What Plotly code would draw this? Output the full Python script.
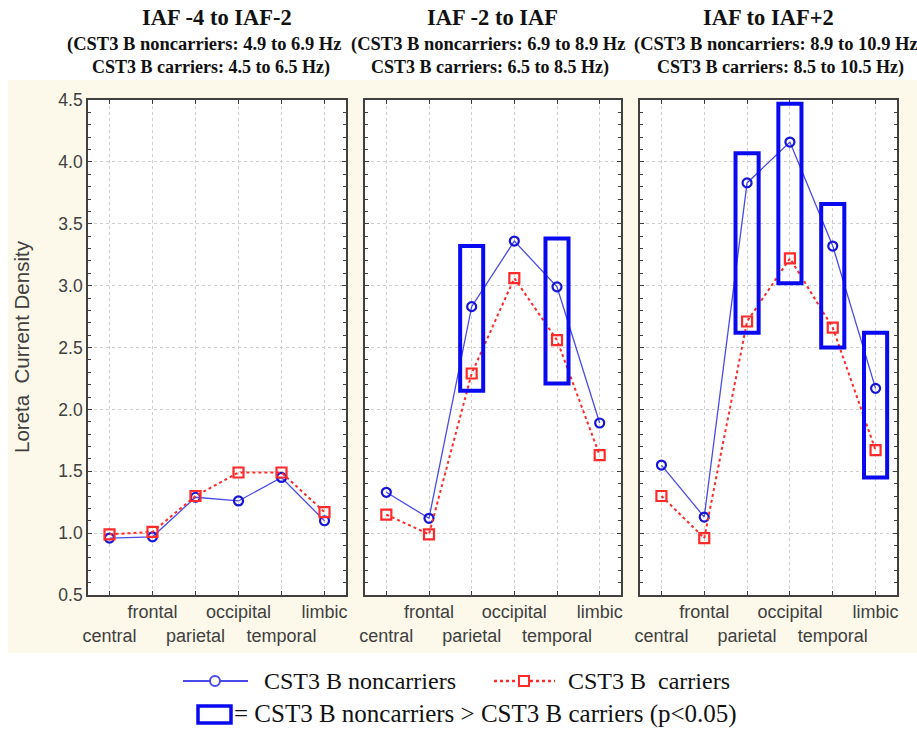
import plotly.graph_objects as go
from plotly.subplots import make_subplots

categories = ["central", "frontal", "parietal", "occipital", "temporal", "limbic"]
tick_text = ["<br>central", "frontal", "<br>parietal", "occipital", "<br>temporal", "limbic"]

panel_titles = ["IAF -4 to IAF-2", "IAF -2 to IAF", "IAF to IAF+2"]
panel_sub1 = ["(CST3 B noncarriers: 4.9 to 6.9 Hz", "(CST3 B noncarriers: 6.9 to 8.9 Hz",
              "(CST3 B noncarriers: 8.9 to 10.9 Hz"]
panel_sub2 = ["CST3 B carriers: 4.5 to 6.5 Hz)", "CST3 B carriers: 6.5 to 8.5 Hz)",
              "CST3 B carriers: 8.5 to 10.5 Hz)"]

noncarr_1 = [0.96, 0.97, 1.29, 1.26, 1.45, 1.10]
carr_1 = [0.99, 1.01, 1.30, 1.49, 1.49, 1.17]
noncarr_2 = [1.33, 1.12, 2.83, 3.36, 2.99, 1.89]
carr_2 = [1.15, 0.99, 2.29, 3.06, 2.56, 1.63]
noncarr_3 = [1.55, 1.13, 3.83, 4.16, 3.32, 2.17]
carr_3 = [1.30, 0.96, 2.71, 3.22, 2.66, 1.67]

sig_cats_2 = ["parietal", "temporal"]
sig_top_2 = [3.32, 3.38]
sig_bot_2 = [2.15, 2.21]
sig_cats_3 = ["parietal", "occipital", "temporal", "limbic"]
sig_top_3 = [4.07, 4.47, 3.66, 2.62]
sig_bot_3 = [2.62, 3.02, 2.50, 1.45]

noncarr = [noncarr_1, noncarr_2, noncarr_3]
carr = [carr_1, carr_2, carr_3]
sig = [([], [], []), (sig_cats_2, sig_top_2, sig_bot_2), (sig_cats_3, sig_top_3, sig_bot_3)]

W, H = 917, 741
L, R, T, B = 88, 20, 100, 146
PW = W - L - R
PH = H - T - B

def X(px):
    return (px - L) / PW

def Y(py):
    return (H - B - py) / PH

fig = make_subplots(rows=1, cols=3, horizontal_spacing=0.0)
domains = [[0.0, X(346)], [X(365), X(621)], [X(640), 1.0]]
sub1_cx = [204, 488, 776]
sub2_cx = [211, 490, 780]

BLUE = "#4a4ae8"
BLUE_M = "#1515d8"
RED = "#ff2a2a"
BOX = "#0a0af0"
SANS = "Liberation Sans, Arial, sans-serif"
SERIF = "Liberation Serif, Times New Roman, serif"

# beige background panel (drawn first), then white plot areas
fig.add_shape(type="rect", xref="paper", yref="paper", x0=X(8), x1=X(917), y0=Y(653), y1=Y(80),
              fillcolor="#fcf9ea", line=dict(width=0), layer="below")

for i in range(3):
    c = i + 1
    xa = "x" if c == 1 else f"x{c}"
    ya = "y" if c == 1 else f"y{c}"
    fig.add_shape(type="rect", xref=xa + " domain", yref=ya + " domain", x0=0, x1=1, y0=0, y1=1,
                  fillcolor="white", line=dict(width=0), layer="below")
    fig.add_trace(go.Scatter(x=categories, y=noncarr[i], mode="lines+markers",
                             line=dict(color=BLUE, width=1.3),
                             marker=dict(symbol="circle-open", size=9, color=BLUE_M, line=dict(width=2.2)),
                             showlegend=False, cliponaxis=False), row=1, col=c)
    fig.add_trace(go.Scatter(x=categories, y=carr[i], mode="lines+markers",
                             line=dict(color=RED, width=2, dash="dot"),
                             marker=dict(symbol="square-open", size=10, color=RED, line=dict(width=2.2)),
                             showlegend=False, cliponaxis=False), row=1, col=c)
    cats, tops, bots = sig[i]
    for cat, tp, bt in zip(cats, tops, bots):
        idx = categories.index(cat)
        fig.add_shape(type="rect", xref=xa, yref=ya, x0=idx - 0.27, x1=idx + 0.27,
                      y0=bt, y1=tp, line=dict(color=BOX, width=4), fillcolor="rgba(0,0,0,0)",
                      layer="above")
    fig.update_xaxes(domain=domains[i], type="category", range=[-0.5, 5.5],
                     tickmode="array", tickvals=categories, ticktext=tick_text, tickangle=0,
                     tickfont=dict(family=SANS, size=18, color="#404040"),
                     showline=True, linecolor="#404040", linewidth=1.6, mirror="ticks",
                     ticks="inside", ticklen=4, tickcolor="#404040",
                     showgrid=True, gridcolor="#cfcfcf", griddash="dot", gridwidth=1,
                     zeroline=False, row=1, col=c)
    fig.update_yaxes(range=[0.5, 4.5], dtick=0.5, tick0=0.5,
                     showticklabels=(c == 1), tickformat=".1f",
                     tickfont=dict(family=SANS, size=17.5, color="#404040"),
                     showline=True, linecolor="#404040", linewidth=1.6, mirror="ticks",
                     ticks="inside", ticklen=4, tickcolor="#404040",
                     minor=dict(dtick=0.1, ticks="inside", ticklen=3, tickcolor="#404040", showgrid=False),
                     showgrid=True, gridcolor="#cfcfcf", griddash="dot", gridwidth=1,
                     zeroline=False, row=1, col=c)
    cx = (domains[i][0] + domains[i][1]) / 2
    fig.add_annotation(x=cx, y=Y(17), xref="paper", yref="paper", text="<b>" + panel_titles[i] + "</b>",
                       showarrow=False, font=dict(family=SERIF, size=22.5, color="#111"),
                       xanchor="center", yanchor="middle")
    fig.add_annotation(x=X(sub1_cx[i]), y=Y(45), xref="paper", yref="paper", text="<b>" + panel_sub1[i] + "</b>",
                       showarrow=False, font=dict(family=SERIF, size=18.5, color="#111"),
                       xanchor="center", yanchor="middle")
    fig.add_annotation(x=X(sub2_cx[i]), y=Y(67), xref="paper", yref="paper", text="<b>" + panel_sub2[i] + "</b>",
                       showarrow=False, font=dict(family=SERIF, size=18, color="#111"),
                       xanchor="center", yanchor="middle")

# y-axis title
fig.add_annotation(x=X(21), y=Y(347), xref="paper", yref="paper", text="Loreta  Current Density",
                   textangle=-90, showarrow=False, font=dict(family=SANS, size=20.5, color="#404040"),
                   xanchor="center", yanchor="middle")

# custom legend
ly1, ly2 = 681, 714
LF = 24
fig.add_shape(type="line", xref="paper", yref="paper", x0=X(183), x1=X(248), y0=Y(ly1), y1=Y(ly1),
              line=dict(color=BLUE, width=2))
fig.add_shape(type="circle", xref="paper", yref="paper", x0=X(210), x1=X(220), y0=Y(ly1 + 5), y1=Y(ly1 - 5),
              line=dict(color=BLUE, width=2), fillcolor="white")
fig.add_annotation(x=X(262), y=Y(ly1), xref="paper", yref="paper", text="CST3 B noncarriers",
                   showarrow=False, font=dict(family=SERIF, size=LF, color="#111"),
                   xanchor="left", yanchor="middle")
fig.add_shape(type="line", xref="paper", yref="paper", x0=X(494), x1=X(555), y0=Y(ly1), y1=Y(ly1),
              line=dict(color=RED, width=2.5, dash="dot"))
fig.add_shape(type="rect", xref="paper", yref="paper", x0=X(519), x1=X(529), y0=Y(ly1 + 5), y1=Y(ly1 - 5),
              line=dict(color=RED, width=2), fillcolor="white")
fig.add_annotation(x=X(566), y=Y(ly1), xref="paper", yref="paper", text="CST3 B  carriers",
                   showarrow=False, font=dict(family=SERIF, size=LF, color="#111"),
                   xanchor="left", yanchor="middle")
fig.add_shape(type="rect", xref="paper", yref="paper", x0=X(198), x1=X(231), y0=Y(ly2 + 9), y1=Y(ly2 - 8),
              line=dict(color=BOX, width=3.5), fillcolor="white")
fig.add_annotation(x=X(232), y=Y(ly2), xref="paper", yref="paper",
                   text="= CST3 B noncarriers &gt; CST3 B carriers (p&lt;0.05)",
                   showarrow=False, font=dict(family=SERIF, size=25, color="#111"),
                   xanchor="left", yanchor="middle")

fig.update_layout(width=W, height=H, margin=dict(l=L, r=R, t=T, b=B),
                  paper_bgcolor="white", plot_bgcolor="white", showlegend=False)

fig.write_html("out.html")
